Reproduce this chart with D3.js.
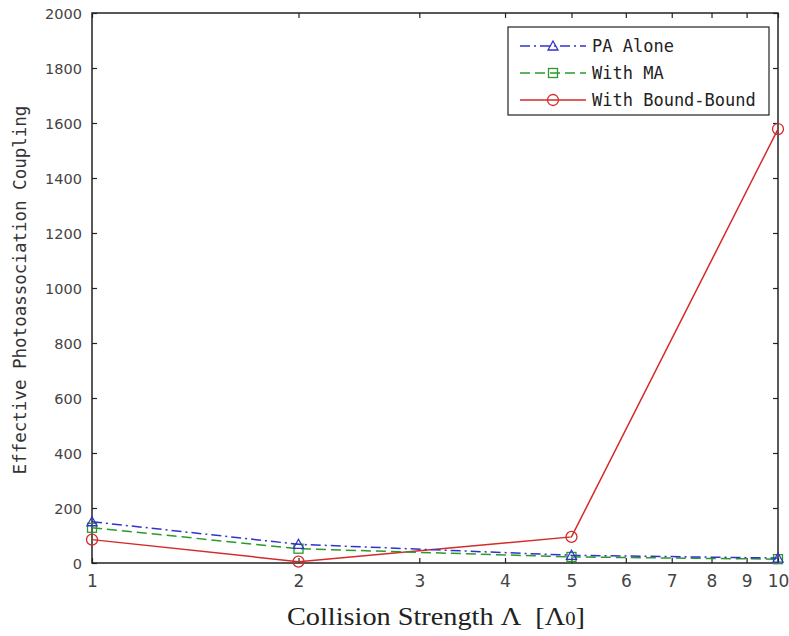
<!DOCTYPE html>
<html><head><meta charset="utf-8">
<script src="https://cdn.jsdelivr.net/npm/d3@7"></script>
<style>body{margin:0;background:#fff}</style>
</head><body><svg id="c" width="789" height="636"></svg>
<script>
const xValues = [1, 2, 5, 10];
const paAlone = [150, 68, 28, 18];
const withMA = [128, 52, 22, 14];
const boundBound = [85, 5, 95, 1578];
const xTicks = [1,2,3,4,5,6,7,8,9,10];
const yTicks = [0,200,400,600,800,1000,1200,1400,1600,1800,2000];
const seriesNames = ["PA Alone", "With MA", "With Bound-Bound"];

const svg = d3.select("#c");
const L = 92, R = 778, T = 13, B = 563;
const x = d3.scaleLog().domain([1,10]).range([L,R]);
const y = d3.scaleLinear().domain([0,2000]).range([B,T]);

svg.append("rect").attr("x",L).attr("y",T).attr("width",R-L).attr("height",B-T)
  .attr("fill","none").attr("stroke","#222").attr("stroke-width",1.5);

const tickFont = "DejaVu Sans, sans-serif";
const gx = svg.append("g").attr("transform",`translate(0,${B})`)
  .call(d3.axisBottom(x).tickValues(xTicks).tickFormat(d3.format("d")).tickSize(-5).tickPadding(12));
const gxt = svg.append("g").attr("transform",`translate(0,${T})`)
  .call(d3.axisTop(x).tickValues(xTicks).tickFormat("").tickSize(-5));
const gy = svg.append("g").attr("transform",`translate(${L},0)`)
  .call(d3.axisLeft(y).tickValues(yTicks).tickFormat(d3.format("d")).tickSize(-5).tickPadding(10));
const gyr = svg.append("g").attr("transform",`translate(${R},0)`)
  .call(d3.axisRight(y).tickValues(yTicks).tickFormat("").tickSize(-5));
[gx,gxt,gy,gyr].forEach(g=>{
  g.select(".domain").remove();
  g.selectAll(".tick line").attr("stroke","#222").attr("stroke-width",1.2);
  g.selectAll("text").attr("font-family",tickFont).attr("fill","#444");
});
gx.selectAll("text").attr("font-size",17);
gy.selectAll("text").attr("font-size",14.5).attr("dy","0.35em");

svg.append("text").attr("transform",`translate(26,${290}) rotate(-90)`)
  .attr("text-anchor","middle").attr("font-family","DejaVu Sans Mono, monospace")
  .attr("font-size",17.5).attr("fill","#333").text("Effective Photoassociation Coupling");

const xl = svg.append("text").attr("x",287).attr("y",625)
  .attr("font-family","Liberation Serif, Times New Roman, serif").attr("font-size",26).attr("fill","#222")
  .attr("textLength",298).attr("lengthAdjust","spacingAndGlyphs");
xl.append("tspan").text("Collision Strength Λ\u00a0\u00a0[Λ");
xl.append("tspan").attr("font-size",19).text("0");
xl.append("tspan").text("]");

const series = [
  {name:seriesNames[0], vals:paAlone, color:"#3333cc", dash:"10,4,2,4", marker:"tri"},
  {name:seriesNames[1], vals:withMA, color:"#2a9a2a", dash:"10,5", marker:"sq"},
  {name:seriesNames[2], vals:boundBound, color:"#d42a2a", dash:null, marker:"circ"}
];
const line = d3.line().x((d,i)=>x(xValues[i])).y(d=>y(d));

function drawMarker(g, type, cx, cy, color){
  if(type==="tri"){
    g.append("path").attr("d",`M${cx},${cy-5}L${cx+5},${cy+4}L${cx-5},${cy+4}Z`)
      .attr("fill","none").attr("stroke",color).attr("stroke-width",1.3);
  } else if(type==="sq"){
    g.append("rect").attr("x",cx-4.5).attr("y",cy-4.5).attr("width",9).attr("height",9)
      .attr("fill","none").attr("stroke",color).attr("stroke-width",1.3);
  } else {
    g.append("circle").attr("cx",cx).attr("cy",cy).attr("r",5.5)
      .attr("fill","none").attr("stroke",color).attr("stroke-width",1.3);
  }
}

const plot = svg.append("g");
series.slice().reverse().forEach(s=>{
  plot.append("path").datum(s.vals).attr("d",line).attr("fill","none")
    .attr("stroke",s.color).attr("stroke-width",1.5)
    .attr("stroke-dasharray",s.dash);
  s.vals.forEach((v,i)=>drawMarker(plot,s.marker,x(xValues[i]),y(v),s.color));
});

const lg = svg.append("g");
lg.append("rect").attr("x",508).attr("y",27).attr("width",261).attr("height",88)
  .attr("fill","#fff").attr("stroke","#222").attr("stroke-width",1.2);
series.forEach((s,i)=>{
  const yy = 46 + i*27;
  lg.append("line").attr("x1",520).attr("x2",586).attr("y1",yy).attr("y2",yy)
    .attr("stroke",s.color).attr("stroke-width",1.5).attr("stroke-dasharray",s.dash);
  drawMarker(lg,s.marker,553,yy,s.color);
  lg.append("text").attr("x",592).attr("y",yy).attr("dy","0.35em")
    .attr("font-family","DejaVu Sans Mono, monospace").attr("font-size",17).attr("fill","#222")
    .text(s.name);
});
</script></body></html>
